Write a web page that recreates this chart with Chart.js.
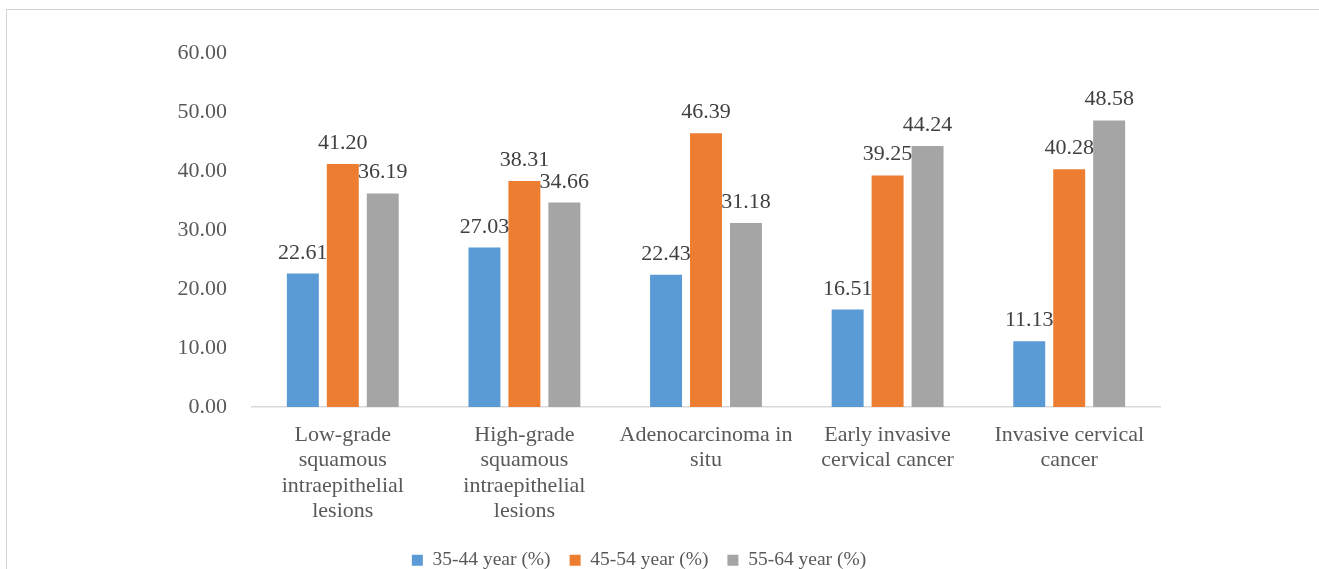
<!DOCTYPE html>
<html>
<head>
<meta charset="utf-8">
<script src="https://cdn.jsdelivr.net/npm/chart.js@4.4.0/dist/chart.umd.min.js"></script>
<style>
  html, body { margin: 0; padding: 0; background: #fff; overflow: hidden; width: 1319px; height: 569px; }
  #frame {
    position: absolute; left: 6px; top: 9px; width: 1313px; height: 580px;
    border-top: 1px solid #d4d4d4; border-left: 1px solid #d4d4d4;
  }
  #grafico { display: block; }
</style>
</head>
<body>
<div id="frame"><canvas id="grafico" width="1312" height="570"></canvas></div>
<script>
const categorias = [
  ["Low-grade", "squamous", "intraepithelial", "lesions"],
  ["High-grade", "squamous", "intraepithelial", "lesions"],
  ["Adenocarcinoma in", "situ"],
  ["Early invasive", "cervical cancer"],
  ["Invasive cervical", "cancer"]
];
const faixa3544 = [22.61, 27.03, 22.43, 16.51, 11.13];
const faixa4554 = [41.20, 38.31, 46.39, 39.25, 40.28];
const faixa5564 = [36.19, 34.66, 31.18, 44.24, 48.58];
const nomesSeries = ["35-44 year (%)", "45-54 year (%)", "55-64 year (%)"];
const coresSeries = ["#5B9BD5", "#ED7D31", "#A5A5A5"];

const fonte = '"Liberation Serif", "Times New Roman", serif';
const tamLegenda = 19.5;
const espacoLegenda = 19;

// rótulos com o valor em cima de cada barra
const rotulosValores = {
  id: 'rotulosValores',
  afterDatasetsDraw(chart) {
    const ctx = chart.ctx;
    ctx.save();
    ctx.font = '22px ' + fonte;
    ctx.fillStyle = '#404040';
    ctx.textAlign = 'center';
    ctx.textBaseline = 'alphabetic';
    chart.data.datasets.forEach((ds, i) => {
      chart.getDatasetMeta(i).data.forEach((barra, j) => {
        ctx.fillText(ds.data[j].toFixed(2), barra.x, barra.y - 15);
      });
    });
    ctx.restore();
  }
};

const ctx = document.getElementById('grafico').getContext('2d');
new Chart(ctx, {
  type: 'bar',
  data: {
    labels: categorias,
    datasets: [faixa3544, faixa4554, faixa5564].map((valores, i) => ({
      label: nomesSeries[i],
      data: valores,
      backgroundColor: coresSeries[i],
      borderWidth: 0,
      categoryPercentage: 0.66,
      barPercentage: 0.8
    }))
  },
  options: {
    responsive: false,
    animation: false,
    layout: { padding: { left: 111, right: 159, top: 43, bottom: 0 } },
    plugins: {
      tooltip: { enabled: false },
      legend: {
        position: 'bottom',
        labels: {
          boxWidth: 11,
          boxHeight: 11,
          padding: espacoLegenda,
          color: '#595959',
          font: { family: fonte, size: tamLegenda }
        }
      }
    },
    scales: {
      x: {
        grid: { display: false, drawTicks: false },
        border: { display: true, color: '#d9d9d9', width: 1.5 },
        ticks: {
          color: '#595959',
          padding: 15,
          maxRotation: 0,
          autoSkip: false,
          font: { family: fonte, size: 22, lineHeight: 1.16 }
        },
        // eixo com altura fixa para a base das barras ficar no lugar
        afterFit: (escala) => { escala.height = 570 - (tamLegenda + espacoLegenda + 10) - 397; }
      },
      y: {
        min: 0,
        max: 60,
        grid: { display: false, drawTicks: false },
        border: { display: false },
        ticks: {
          stepSize: 10,
          color: '#595959',
          padding: 25,
          font: { family: fonte, size: 22 },
          callback: (v) => v.toFixed(2)
        },
        afterFit: (escala) => { escala.width = 134; }
      }
    }
  },
  plugins: [rotulosValores]
});
</script>
</body>
</html>
